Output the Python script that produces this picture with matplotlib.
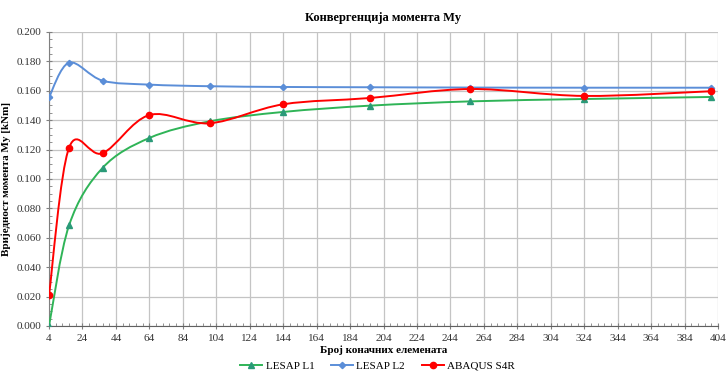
import numpy as np
import matplotlib
matplotlib.use("Agg")
import matplotlib.pyplot as plt
from matplotlib.path import Path
from matplotlib.patches import PathPatch
from matplotlib.lines import Line2D
from matplotlib.ticker import MultipleLocator, FixedLocator

plt.rcParams['font.family'] = ['Liberation Serif', 'DejaVu Serif']

# број коначних елемената
elements = [4, 16, 36, 64, 100, 144, 196, 256, 324, 400]
lesap_l1 = [0.0000, 0.0685, 0.1075, 0.1279, 0.1392, 0.1456, 0.1499, 0.1528, 0.1544, 0.1558]
lesap_l2 = [0.1556, 0.1791, 0.1669, 0.1642, 0.1631, 0.1626, 0.1624, 0.1622, 0.1621, 0.1621]
abaqus_s4r = [0.0209, 0.1213, 0.1175, 0.1435, 0.1379, 0.1508, 0.1551, 0.1612, 0.1565, 0.1597]

series_names = ['LESAP L1', 'LESAP L2', 'ABAQUS S4R']
line_colors = ['#2fb457', '#5b8ed8', '#ff0000']
marker_colors = ['#2a9a78', '#5b8ed8', '#ff0000']
markers = ['^', 'D', 'o']
marker_sizes = [4, 3.2, 4.5]


def smooth_path(xs, ys):
    # Excel-like smoothed line: cubic Bezier through the points (Catmull-Rom)
    pts = np.column_stack([xs, ys]).astype(float)
    n = len(pts)
    verts = [pts[0]]
    codes = [Path.MOVETO]
    for i in range(n - 1):
        p0 = pts[i - 1] if i > 0 else pts[i]
        p1 = pts[i]
        p2 = pts[i + 1]
        p3 = pts[i + 2] if i + 2 < n else pts[i + 1]
        c1 = p1 + (p2 - p0) / 6.0
        c2 = p2 - (p3 - p1) / 6.0
        verts += [c1, c2, p2]
        codes += [Path.CURVE4] * 3
    return Path(verts, codes)


fig = plt.figure(figsize=(7.26, 3.75), dpi=100)
ax = fig.add_axes([0.0675, 0.1307, 0.9215, 0.784])

handles = []
for ys, name, lc, mc, mk, ms in zip([lesap_l1, lesap_l2, abaqus_s4r], series_names,
                                    line_colors, marker_colors, markers, marker_sizes):
    patch = PathPatch(smooth_path(elements, ys), facecolor='none', edgecolor=lc, lw=1.4, zorder=3)
    ax.add_patch(patch)
    ax.plot(elements, ys, linestyle='none', marker=mk, color=mc, markersize=ms, zorder=4)
    handles.append(Line2D([0], [0], color=lc, lw=1.4, marker=mk, markerfacecolor=mc,
                          markeredgecolor=mc, markersize=ms, label=name))

ax.set_xlim(4, 404)
ax.set_ylim(0, 0.2)
ax.xaxis.set_major_locator(FixedLocator(np.arange(4, 405, 20)))
ax.xaxis.set_minor_locator(FixedLocator(np.arange(4, 405, 4)))
ax.yaxis.set_major_locator(MultipleLocator(0.02))
ax.yaxis.set_minor_locator(MultipleLocator(0.005))
ax.yaxis.set_major_formatter(matplotlib.ticker.FormatStrFormatter('%.3f'))

ax.grid(True, which='major', color='#c4c4c4', lw=0.9)
ax.set_axisbelow(True)
for s in ['top', 'right']:
    ax.spines[s].set_visible(False)
ax.spines['left'].set_color('#808080')
ax.spines['bottom'].set_color('#606060')
ax.tick_params(axis='both', which='major', labelsize=8, color='#808080', length=4, direction='inout',
               labelcolor='#333333')
ax.tick_params(axis='both', which='minor', length=2.5, color='#808080', direction='in')

ax.set_title('Конвергенција момента My', fontsize=9, fontweight='bold', pad=8)
ax.set_xlabel('Број коначних елемената', fontsize=8, fontweight='bold', labelpad=2)
ax.set_ylabel('Вриједност момента My [kNm]', fontsize=8, fontweight='bold', labelpad=4)

fig.legend(handles=handles, loc='lower center', ncol=3, frameon=False, fontsize=8,
           bbox_to_anchor=(0.52, -0.015), handlelength=2.0, columnspacing=1.5, handletextpad=0.3)

fig.savefig('out.png', dpi=100)
